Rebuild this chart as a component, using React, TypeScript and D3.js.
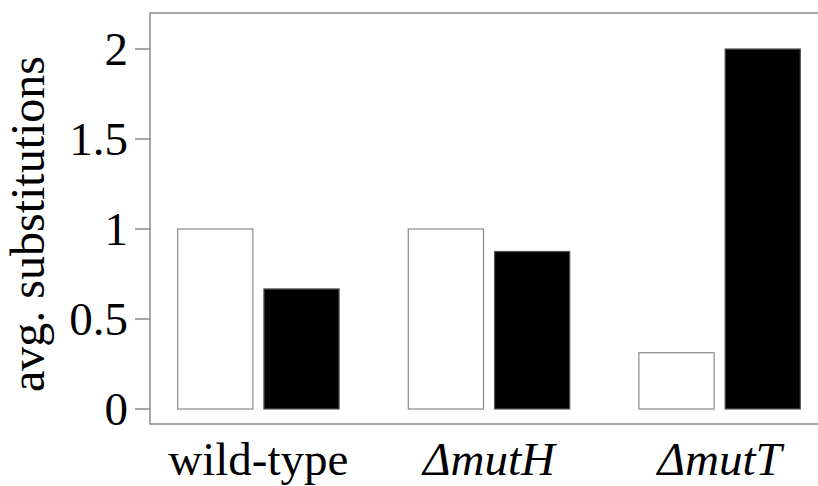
import React, { useEffect, useRef } from "react";
import * as d3 from "d3";

const categories = ["wild-type", "ΔmutH", "ΔmutT"];
const italicCats = ["ΔmutH", "ΔmutT"];
const series = ["open", "filled"];
const openValues = [1, 1, 0.3125];
const filledValues = [0.667, 0.875, 2];
const yTicks = [0, 0.5, 1, 1.5, 2];

const W = 818;
const H = 486;

const App = () => {
  const ref = useRef<SVGSVGElement>(null);

  useEffect(() => {
    const svg = d3.select(ref.current);
    svg.selectAll("*").remove();

    const font = "'Liberation Serif', 'Times New Roman', serif";
    const axisColor = "#8a8a8a";

    const left = 150;
    const top = 13;
    const bottom = 424;

    const y = d3.scaleLinear().domain([0, 2]).range([409, 49]);
    const x = d3
      .scaleBand()
      .domain(categories)
      .range([150, 828])
      .paddingInner(0.3)
      .paddingOuter(0.12);
    const xs = d3
      .scaleBand()
      .domain(series)
      .range([0, x.bandwidth()])
      .paddingInner(0.128);

    const rows = categories.map((c, i) => ({
      cat: c,
      vals: [
        { key: "open", v: openValues[i] },
        { key: "filled", v: filledValues[i] },
      ],
    }));

    // frame: top, left, bottom (no right side)
    svg
      .append("path")
      .attr("d", `M${W},${top}H${left}V${bottom}H${W}`)
      .attr("fill", "none")
      .attr("stroke", axisColor)
      .attr("stroke-width", 1.5);

    const g = svg
      .selectAll("g.cat")
      .data(rows)
      .join("g")
      .attr("class", "cat")
      .attr("transform", (d) => `translate(${x(d.cat)},0)`);

    g.selectAll("rect")
      .data((d) => d.vals)
      .join("rect")
      .attr("x", (d) => xs(d.key)!)
      .attr("width", xs.bandwidth())
      .attr("y", (d) => y(d.v))
      .attr("height", (d) => y(0) - y(d.v))
      .attr("fill", (d) => (d.key === "open" ? "#fff" : "#000"))
      .attr("stroke", (d) => (d.key === "open" ? axisColor : "#555"))
      .attr("stroke-width", 1.2);

    // y ticks
    const yt = svg.append("g");
    yt.selectAll("line")
      .data(yTicks)
      .join("line")
      .attr("x1", 135)
      .attr("x2", left)
      .attr("y1", (d) => y(d))
      .attr("y2", (d) => y(d))
      .attr("stroke", axisColor)
      .attr("stroke-width", 1.5);
    yt.selectAll("text")
      .data(yTicks)
      .join("text")
      .attr("x", 128)
      .attr("y", (d) => y(d))
      .attr("dy", "0.34em")
      .attr("text-anchor", "end")
      .attr("font-family", font)
      .attr("font-size", 47)
      .text((d) => String(d));

    // x labels
    svg
      .append("g")
      .selectAll("text")
      .data(categories)
      .join("text")
      .attr("x", (d) => x(d)! + x.bandwidth() / 2)
      .attr("y", 475)
      .attr("text-anchor", "middle")
      .attr("font-family", font)
      .attr("font-size", 47)
      .attr("font-style", (d) => (italicCats.includes(d) ? "italic" : "normal"))
      .text((d) => d);

    // y title
    svg
      .append("text")
      .attr("transform", `translate(44,224) rotate(-90)`)
      .attr("text-anchor", "middle")
      .attr("font-family", font)
      .attr("font-size", 48)
      .text("avg. substitutions");
  }, []);

  return (
    <svg
      ref={ref}
      width={W}
      height={H}
      style={{ position: "absolute", left: 0, top: 0, background: "#fff" }}
    />
  );
};

export default App;
